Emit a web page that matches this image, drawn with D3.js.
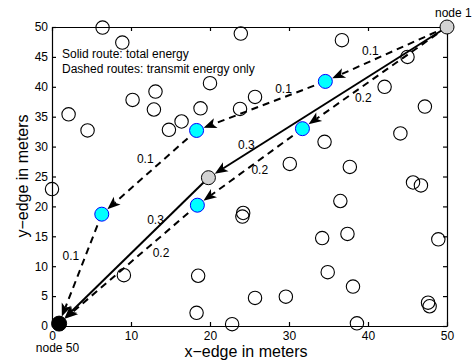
<!DOCTYPE html>
<html>
<head>
<meta charset="utf-8">
<script src="https://cdn.jsdelivr.net/npm/d3@7"></script>
<style>
  body { margin: 0; background: #fff; }
  text { font-family: "Liberation Sans", Arial, sans-serif; fill: #000; }
</style>
</head>
<body>
<svg id="chart" width="473" height="362"></svg>
<script>
// idle sensor nodes (x, y in meters)
const idleX = [6.4, 8.9, 2.1, 4.5, 10.2, 13.1, 12.9, 14.8, 16.4, 18.8, 20.0, 23.9, 23.8, 36.7, 45.0, 42.1, 47.2, 25.7, 44.1, 34.5, 30.1,
  37.7, 45.7, 46.7, 0.0, 9.1, 18.5, 18.3, 22.8, 24.2, 24.1, 36.5, 34.2, 37.4, 48.9, 34.9, 38.1, 25.7, 29.6, 47.6, 47.8, 38.6];
const idleY = [49.9, 47.4, 35.4, 32.7, 37.8, 39.2, 36.2, 32.8, 34.2, 36.4, 40.6, 48.9, 36.3, 47.8, 45.0, 40.0, 36.7, 38.3, 32.2, 30.8, 27.1,
  26.6, 24.0, 23.5, 22.9, 8.5, 8.4, 2.2, 0.3, 18.9, 18.3, 20.9, 14.7, 15.4, 14.5, 9.0, 6.6, 4.7, 4.9, 3.9, 3.3, 0.45];

// nodes on the routes
const routeNodeNames = ["node 1", "hub", "node 50", "a1", "a2", "a3", "b1", "b2"];
const routeNodeX = [50, 19.8, 0.9, 34.6, 18.3, 6.3, 31.7, 18.4];
const routeNodeY = [50, 24.8, 0.4, 40.9, 32.7, 18.7, 33.0, 20.2];
const routeNodeKind = ["end", "hub", "sink", "relay", "relay", "relay", "relay", "relay"];

// routes (node indices) and per hop energy
const solidRoute = [0, 1, 2];
const solidCost = [0.3, 0.3];
const solidCostX = [24.6, 13.1];
const solidCostY = [30.3, 17.8];

const dashRouteA = [0, 3, 4, 5, 2];
const dashCostA = [0.1, 0.1, 0.1, 0.1];
const dashCostAX = [40.3, 29.3, 11.8, 2.4];
const dashCostAY = [46.0, 39.6, 27.9, 11.7];

const dashRouteB = [0, 6, 7, 2];
const dashCostB = [0.2, 0.2, 0.2];
const dashCostBX = [39.4, 26.3, 13.8];
const dashCostBY = [38.1, 26.1, 12.3];

const xTicks = [0, 10, 20, 30, 40, 50];
const yTicks = [0, 5, 10, 15, 20, 25, 30, 35, 40, 45, 50];

const svg = d3.select("#chart");
const x = d3.scaleLinear().domain([0, 50]).range([52, 447]);
const y = d3.scaleLinear().domain([0, 50]).range([326, 27]);

// axes box with inward ticks
svg.append("g")
  .attr("transform", "translate(0,326)")
  .call(d3.axisBottom(x).tickValues(xTicks).tickSizeInner(-4).tickSizeOuter(0).tickPadding(5))
  .call(g => g.selectAll("text").attr("font-size", 12).attr("font-family", null));
svg.append("g")
  .attr("transform", "translate(52,0)")
  .call(d3.axisLeft(y).tickValues(yTicks).tickSizeInner(-4).tickSizeOuter(0).tickPadding(4))
  .call(g => g.selectAll("text").attr("font-size", 12).attr("font-family", null));
svg.append("g")
  .attr("transform", "translate(0,27)")
  .call(d3.axisTop(x).tickValues(xTicks).tickSizeInner(-4).tickSizeOuter(0).tickFormat(""));
svg.append("g")
  .attr("transform", "translate(447,0)")
  .call(d3.axisRight(y).tickValues(yTicks).tickSizeInner(-4).tickSizeOuter(0).tickFormat(""));
svg.selectAll(".domain, .tick line").attr("stroke", "#000").attr("stroke-width", 1.2);

// idle nodes
svg.append("g").selectAll("circle")
  .data(idleX.map((d, i) => [d, idleY[i]]))
  .join("circle")
  .attr("cx", d => x(d[0]))
  .attr("cy", d => y(d[1]))
  .attr("r", 6.7)
  .attr("fill", "none")
  .attr("stroke", "#000")
  .attr("stroke-width", 1.1);

// routes
const pt = i => [x(routeNodeX[i]), y(routeNodeY[i])];
const links = svg.append("g");

function drawRoute(route, dashed) {
  for (let k = 0; k < route.length - 1; k++) {
    const p = pt(route[k]), q = pt(route[k + 1]);
    const dx = q[0] - p[0], dy = q[1] - p[1], len = Math.hypot(dx, dy);
    const ux = dx / len, uy = dy / len, nx = -uy, ny = ux;
    const rTip = 7.5, L = 13, W = 5.2;
    const tip = [q[0] - ux * rTip, q[1] - uy * rTip];
    const back = [tip[0] - ux * L, tip[1] - uy * L];
    const notch = [tip[0] - ux * L * 0.75, tip[1] - uy * L * 0.75];
    links.append("line")
      .attr("x1", p[0]).attr("y1", p[1])
      .attr("x2", notch[0]).attr("y2", notch[1])
      .attr("stroke", "#000")
      .attr("stroke-width", 2)
      .attr("stroke-dasharray", dashed ? "7,5" : null);
    links.append("path")
      .attr("d", d3.line()([tip, [back[0] + nx * W, back[1] + ny * W], notch, [back[0] - nx * W, back[1] - ny * W]]) + "Z")
      .attr("fill", "#000");
  }
}
drawRoute(dashRouteA, true);
drawRoute(dashRouteB, true);
drawRoute(solidRoute, false);

// route nodes
const fillFor = { end: "#d3d3d3", hub: "#d3d3d3", sink: "#000", relay: "#00ffff" };
const strokeFor = { end: "#000", hub: "#000", sink: "#000", relay: "#0000ff" };
svg.append("g").selectAll("circle")
  .data(routeNodeKind.map((k, i) => ({ k, i })))
  .join("circle")
  .attr("cx", d => x(routeNodeX[d.i]))
  .attr("cy", d => y(routeNodeY[d.i]))
  .attr("r", d => d.k === "sink" ? 7.5 : 7)
  .attr("fill", d => fillFor[d.k])
  .attr("stroke", d => strokeFor[d.k])
  .attr("stroke-width", 1);

// hop energy labels
const labels = svg.append("g").attr("font-size", 12).attr("text-anchor", "middle");
function costLabels(costs, lx, ly) {
  costs.forEach((c, i) => {
    labels.append("text")
      .attr("x", x(lx[i]))
      .attr("y", y(ly[i]))
      .attr("dy", "0.35em")
      .text(c.toFixed(1));
  });
}
costLabels(solidCost, solidCostX, solidCostY);
costLabels(dashCostA, dashCostAX, dashCostAY);
costLabels(dashCostB, dashCostBX, dashCostBY);

// node names
svg.append("text").attr("x", x(50.8)).attr("y", y(52.4)).attr("dy", "0.35em")
  .attr("text-anchor", "middle").attr("font-size", 12).text("node 1");
svg.append("text").attr("x", x(0.7)).attr("y", y(-3.7)).attr("dy", "0.35em")
  .attr("text-anchor", "middle").attr("font-size", 12).text("node 50");

// legend note
svg.append("text").attr("x", 62).attr("y", 58.3).attr("font-size", 12).text("Solid route: total energy");
svg.append("text").attr("x", 62).attr("y", 72.7).attr("font-size", 12).text("Dashed routes: transmit energy only");

// axis titles
svg.append("text").attr("x", 246).attr("y", 356.5).attr("text-anchor", "middle")
  .attr("font-size", 16).text("x\u2212edge in meters");
svg.append("text").attr("transform", "translate(28,176) rotate(-90)").attr("text-anchor", "middle")
  .attr("font-size", 16).text("y\u2212edge in meters");
</script>
</body>
</html>
